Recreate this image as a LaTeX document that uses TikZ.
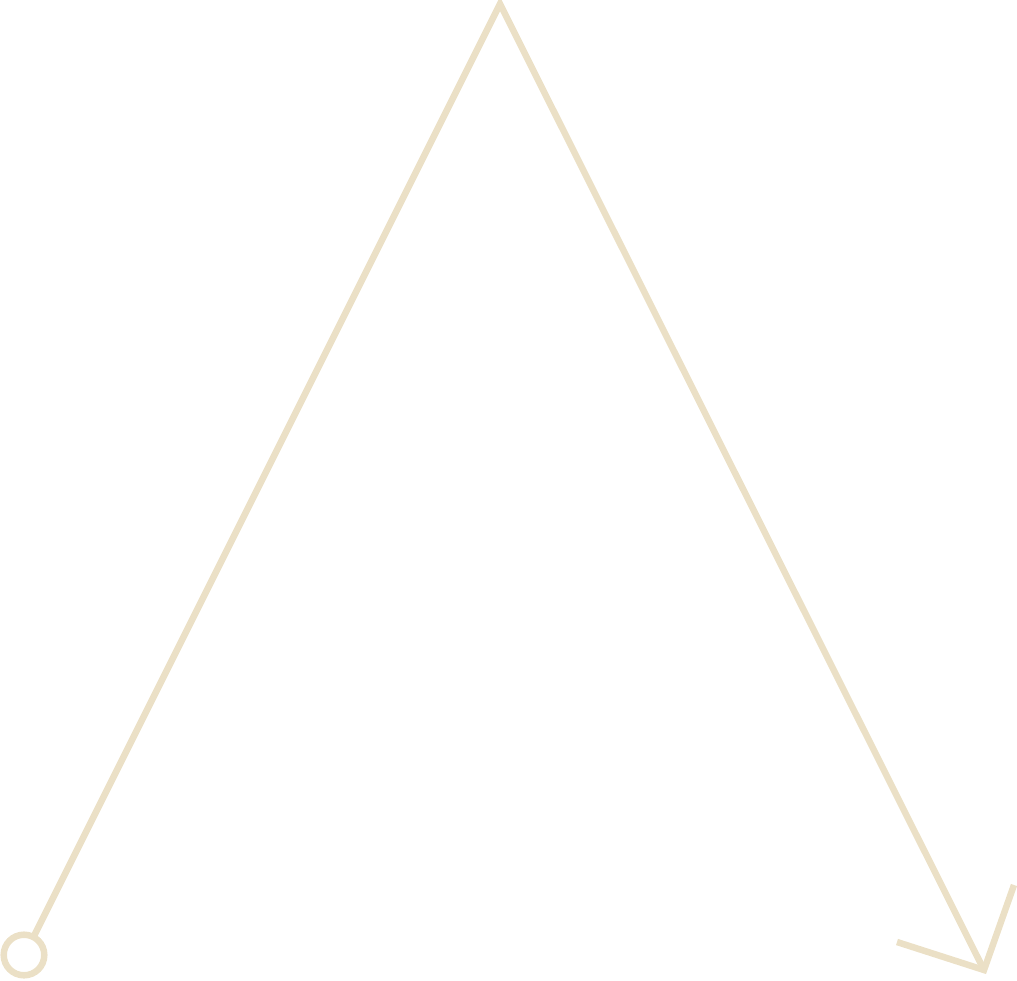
\documentclass[tikz,border=0pt]{standalone}
\begin{document}
\begin{tikzpicture}[x=1pt,y=-1pt]
\definecolor{beige}{RGB}{235,224,198}
\tikzset{stroke/.style={draw=beige,line width=6.5pt}}
\useasboundingbox (0,0) rectangle (1017,980);
\coordinate (c) at (24,955);
\coordinate (start) at (34,936);
\coordinate (apex) at (500,4);
\coordinate (tip) at (984,970);
\coordinate (wl) at (897,942);
\coordinate (wr) at (1014,885);
\draw[stroke] (c) circle[radius=20.3];
\draw[stroke,line join=miter] (start) -- (apex) -- (tip);
\draw[stroke,line join=miter] (wl) -- (tip) -- (wr);
\end{tikzpicture}
\end{document}
